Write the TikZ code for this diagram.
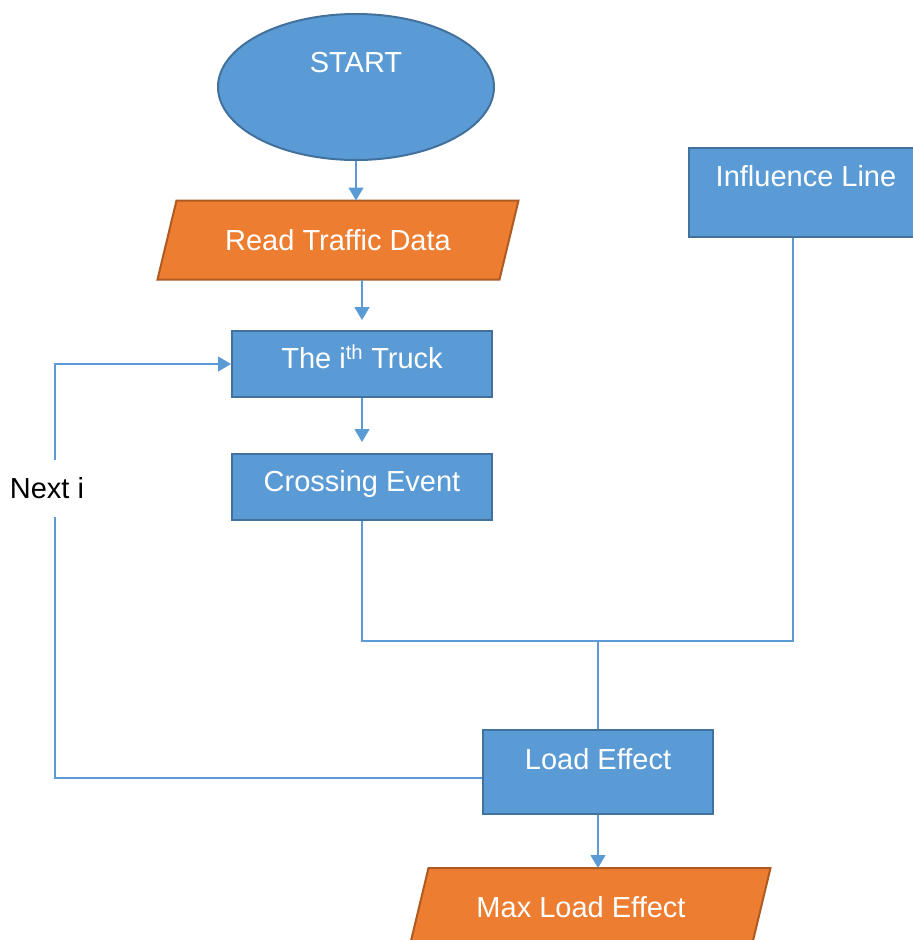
\documentclass[tikz,border=0pt]{standalone}
\usepackage{fontspec}
\setmainfont{Liberation Sans}
\usetikzlibrary{shapes.geometric,arrows.meta,backgrounds}
\definecolor{boxblue}{HTML}{5B9BD5}
\definecolor{boxblueline}{HTML}{41719C}
\definecolor{boxorange}{HTML}{ED7D31}
\definecolor{boxorangeline}{HTML}{AE5A21}
\tikzset{
  flownode/.style = {align=center, inner sep=0pt, text centered, text=white, line width=2pt, font=\fontsize{29}{34}\selectfont},
  fl_proc/.style = {flownode, rectangle, draw=boxblueline, fill=boxblue},
  fl_term/.style = {flownode, ellipse, draw=boxblueline, fill=boxblue},
  fl_io/.style = {flownode, rectangle, minimum width=359pt, minimum height=77pt},
  fl_io_shape/.style = {draw=boxorangeline, fill=boxorange, line width=2pt, line join=miter},
  fl_line/.style = {draw=boxblue, line width=1.5pt},
  fl_arrow/.style = {fl_line, -{Triangle[width=15pt,length=13pt]}},
}
\newcommand{\lift}[2]{\raisebox{#1}[\height][\depth]{#2}}
% slanted input/output box around a named node
\newcommand{\iobox}[1]{%
  \draw [fl_io_shape] ([xshift=19pt]#1.north west) -- (#1.north east)
    -- ([xshift=-19pt]#1.south east) -- (#1.south west) -- cycle;}

\begin{document}
\begin{tikzpicture}[x=1pt, y=-1pt]
  \useasboundingbox (0,0) rectangle (913,940);
  \clip (0,0) rectangle (913,940);
  \node [fl_term, minimum width=276pt, minimum height=146pt] (start) at (356,87) {\lift{24pt}{START}};
  \node [fl_io] (read) at (338,240) {Read Traffic Data};
  \node [fl_proc, minimum width=260pt, minimum height=66pt] (truck) at (362,364) {\lift{7pt}{The i\textsuperscript{th} Truck}};
  \node [fl_proc, minimum width=260pt, minimum height=66pt] (cross) at (362,487) {\lift{3pt}{Crossing Event}};
  \node [fl_proc, minimum width=234pt, minimum height=89pt] (infl) at (806,192.5) {\lift{16pt}{Influence Line}};
  \node [fl_proc, minimum width=230pt, minimum height=84pt] (load) at (598,772) {\lift{13pt}{Load Effect}};
  \node [fl_io] (maxload) at (590,907.5) {\hspace*{-18pt}Max Load Effect};

  \begin{scope}[on background layer]
    \iobox{read}
    \iobox{maxload}
  \end{scope}

  \draw [fl_arrow] (start) -- (start |- read.north);
  \draw [fl_arrow, shorten >=10pt] (truck.north |- read.south) -- (truck.north);
  \draw [fl_arrow, shorten >=11pt] (truck) -- (cross);

  % event and influence line meet, then feed the load effect
  \coordinate (join) at (598,641);
  \draw [fl_line] (cross.south) |- (join) -| ([xshift=-13pt]infl.south);
  \draw [fl_line] (join) -- (load);
  \draw [fl_arrow] (load) -- (load |- maxload.north);

  % loop back to the next truck
  \coordinate (back) at (55,364);
  \draw [fl_arrow] ([yshift=-6pt]load.west) -| (back)
    node [pos=0.85, fill=white, text=black, font=\fontsize{29}{34}\selectfont, inner xsep=2pt, inner ysep=18pt, xshift=-8pt] (nexti) {Next i}
    -- (truck.west);
\end{tikzpicture}
\end{document}
